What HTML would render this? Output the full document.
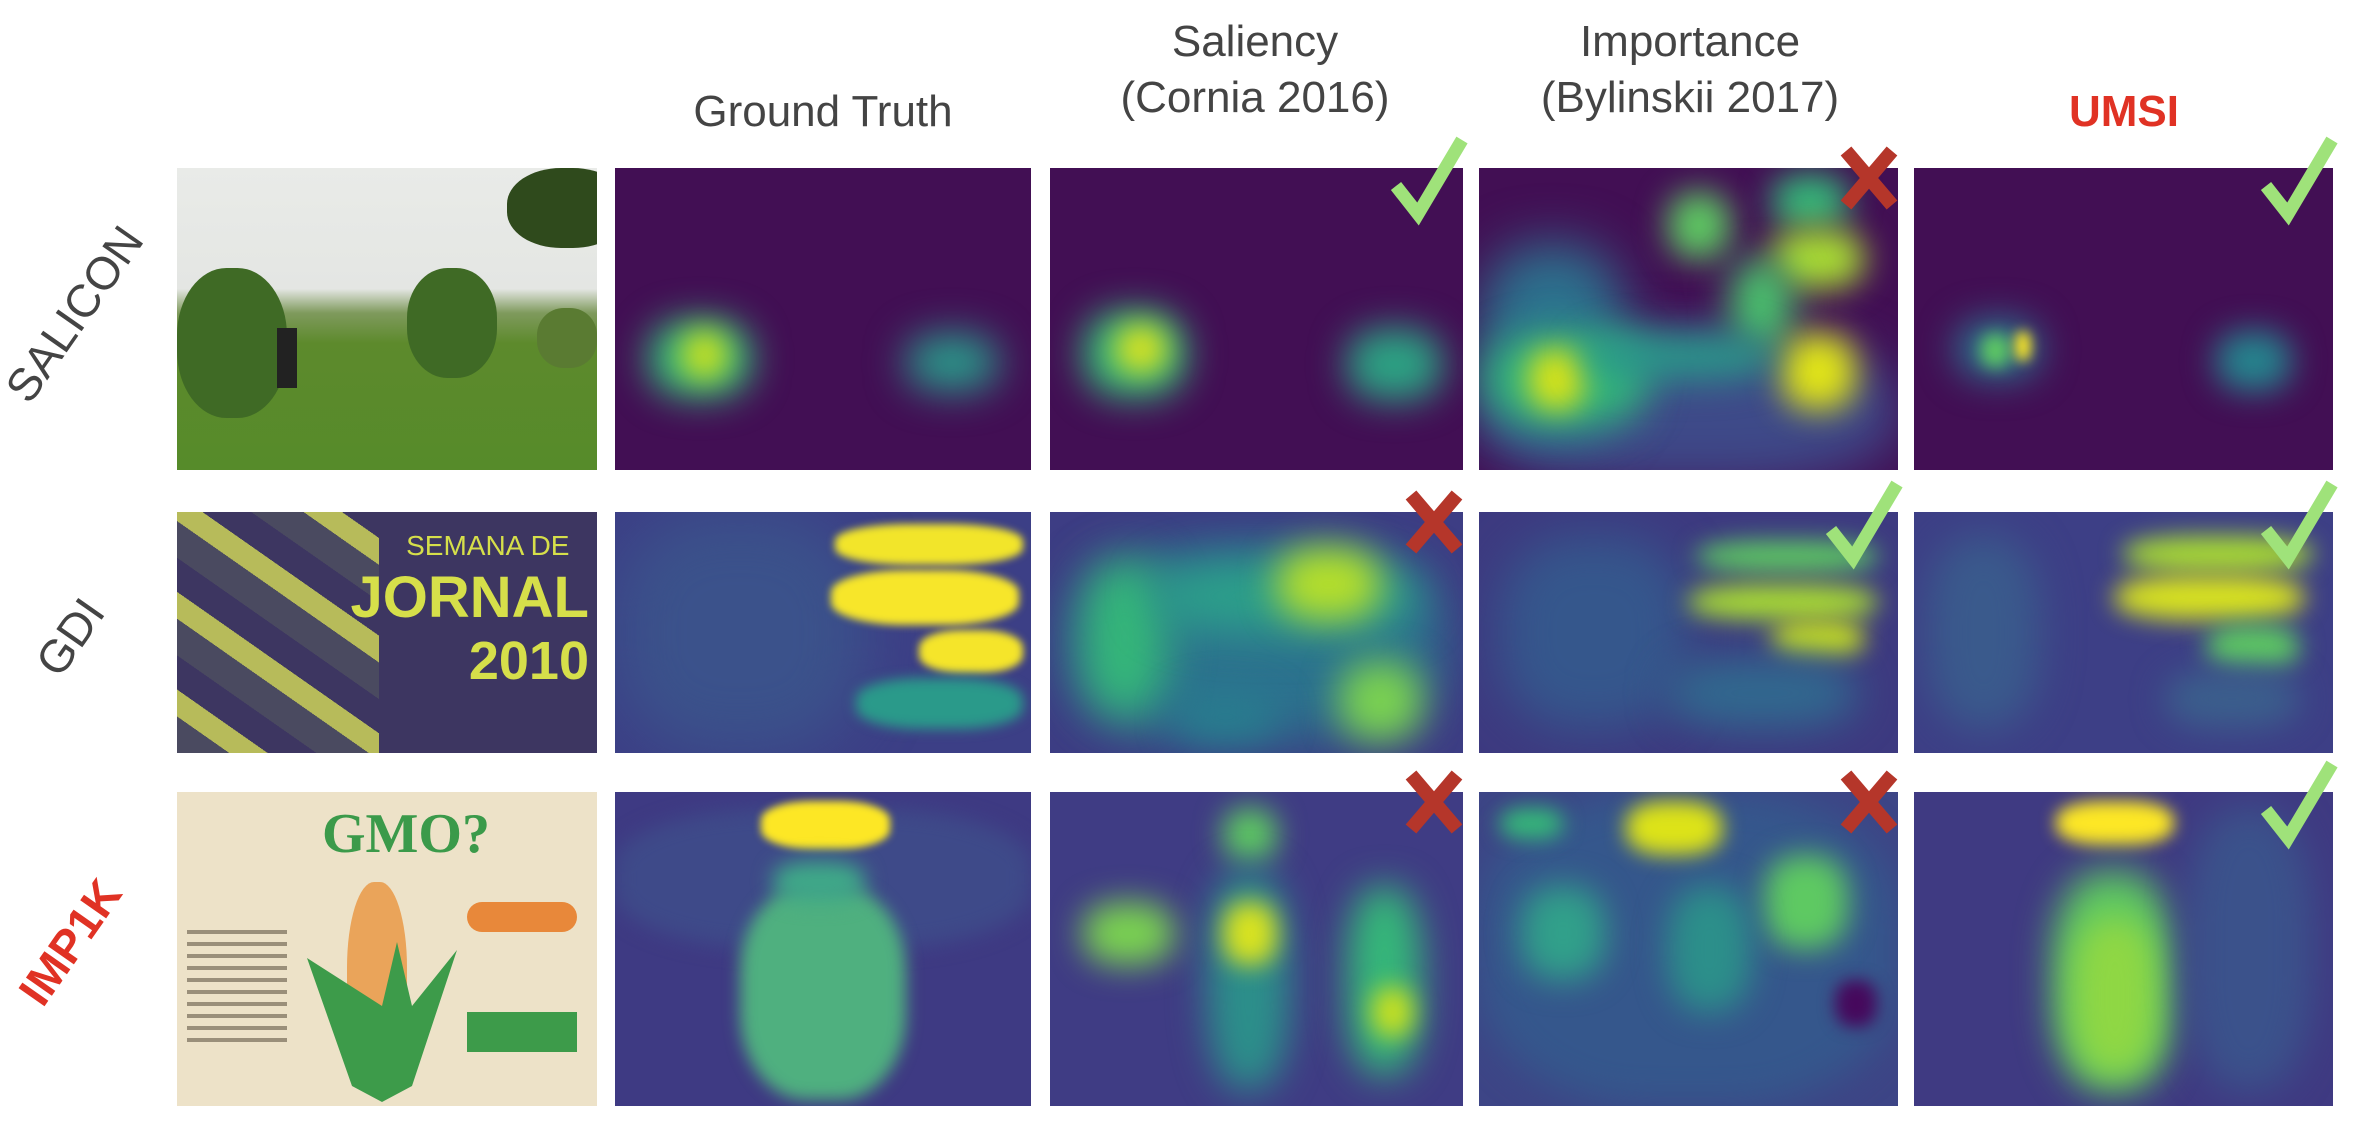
<!DOCTYPE html>
<html><head><meta charset="utf-8">
<style>
html,body{margin:0;padding:0;background:#fff;}
body{width:2354px;height:1134px;position:relative;overflow:hidden;font-family:"Liberation Sans",sans-serif;}
.t{position:absolute;text-align:center;color:#444;font-size:44px;line-height:56px;white-space:nowrap;}
.rl{position:absolute;font-size:46px;color:#444;transform:rotate(-55deg);transform-origin:center;white-space:nowrap;}
.p{position:absolute;overflow:hidden;}
.b{position:absolute;border-radius:40%;}
.mk{position:absolute;}
</style></head><body>
<div class="t" style="left:615px;width:416px;top:84px;">Ground Truth</div>
<div class="t" style="left:1030px;width:450px;top:14px;">Saliency<br>(Cornia 2016)</div>
<div class="t" style="left:1460px;width:460px;top:14px;">Importance<br>(Bylinskii 2017)</div>
<div class="t" style="left:1914px;width:420px;top:84px;color:#e03224;font-weight:bold;">UMSI</div>

<div class="rl" style="left:-20px;top:300px;width:170px;text-align:center;">SALICON</div>
<div class="rl" style="left:20px;top:610px;width:100px;text-align:center;">GDI</div>
<div class="rl" style="left:-5px;top:915px;width:150px;text-align:center;color:#e03224;font-weight:bold;">IMP1K</div>

<div id="root"></div>
<script>
const cols=[[177,597],[615,1031],[1050,1463],[1479,1898],[1914,2333]];
const rows=[[168,470],[512,753],[792,1106]];
const bases=[
 [null,'#420f54','#420f54','#420f54','#420f54'],
 [null,'#3c3f86','#3d3d84','#3d3a80','#3d3f86'],
 [null,'#3e3a83','#3f3c84','#3d4586','#3f3a82']];
// blobs: [x0,y0,x1,y1,color,blur]
const blobs=[
 [null,
  [[0.08,0.5,0.33,0.76,'#35b779',18],[0.16,0.54,0.27,0.7,'#c8e020',14],[0.7,0.55,0.92,0.74,'#2a9a8a',20]],
  [[0.08,0.47,0.33,0.76,'#35b779',18],[0.16,0.52,0.28,0.68,'#d8e220',14],[0.72,0.53,0.95,0.77,'#2ca283',18]],
  [[0,0.55,1,1.05,'#3e4a89',26],[0,0.25,0.35,0.9,'#2c728e',26],[0.02,0.55,0.4,0.85,'#35b779',20],[0.12,0.6,0.25,0.8,'#d5e21a',14],[0.45,0.08,0.6,0.3,'#5ec962',16],[0.7,0.02,0.88,0.2,'#35b779',16],[0.7,0.2,0.92,0.4,'#a8db34',16],[0.6,0.3,0.75,0.6,'#4ac16d',18],[0.72,0.55,0.9,0.8,'#e0e318',16],[0.25,0.55,0.7,0.7,'#2a9a8a',18]],
  [[0.1,0.5,0.3,0.7,'#2c728e',18],[0.16,0.55,0.23,0.66,'#5ec962',8],[0.24,0.54,0.28,0.64,'#fde725',6],[0.72,0.54,0.9,0.74,'#25858e',16]]],
 [null,
  [[0,0,0.6,1,'#3b528b',30],[0.53,0.05,0.98,0.22,'#f2e52a',4],[0.52,0.24,0.97,0.47,'#f7e62a',4],[0.73,0.49,0.98,0.67,'#f5e52a',4],[0.58,0.69,0.98,0.9,'#2a9a8a',6]],
  [[0.05,0.15,0.95,0.95,'#2c728e',26],[0.08,0.2,0.28,0.85,'#35b779',22],[0.25,0.2,0.9,0.5,'#2ca08a',22],[0.55,0.15,0.8,0.45,'#b5de2b',18],[0.3,0.75,0.55,0.95,'#287d8e',18],[0.7,0.62,0.9,0.95,'#7ad151',18]],
  [[0.05,0.1,0.5,0.9,'#35578c',24],[0.52,0.12,0.95,0.25,'#5ec962',12],[0.5,0.3,0.95,0.45,'#a8db34',12],[0.7,0.45,0.92,0.6,'#c8e020',12],[0.45,0.6,0.9,0.9,'#31688e',20]],
  [[0.03,0.1,0.3,0.9,'#3a5a8c',20],[0.5,0.1,0.95,0.25,'#a8db34',12],[0.48,0.26,0.93,0.45,'#d8e220',12],[0.7,0.47,0.92,0.65,'#5ec962',12],[0.6,0.65,0.92,0.9,'#3b5e8c',16]]],
 [null,
  [[0,0.05,1,0.5,'#3e4a89',10],[0.35,0.03,0.66,0.18,'#fde725',4],[0.3,0.3,0.7,0.98,'#4fb07f',8],[0.38,0.22,0.6,0.35,'#3fa888',10]],
  [[0.42,0.05,0.55,0.22,'#5ec962',14],[0.38,0.25,0.58,0.95,'#2c8f8a',18],[0.42,0.35,0.55,0.55,'#d8e220',12],[0.08,0.35,0.3,0.55,'#7ad151',16],[0.72,0.3,0.9,0.9,'#35b779',18],[0.78,0.62,0.88,0.78,'#c8e020',12]],
  [[0,0,1,1,'#35578c',18],[0.35,0.03,0.58,0.2,'#dde318',10],[0.05,0.05,0.2,0.15,'#35b779',10],[0.68,0.2,0.88,0.5,'#5ec962',14],[0.1,0.3,0.3,0.6,'#31a08a',16],[0.45,0.3,0.65,0.7,'#2c8f8a',16],[0.85,0.6,0.95,0.75,'#46085c',8]],
  [[0.34,0.03,0.62,0.17,'#fde725',8],[0.33,0.25,0.62,0.95,'#5ec962',18],[0.38,0.4,0.58,0.9,'#8fd744',16],[0.65,0.05,0.95,0.95,'#3b528b',18]]]];
const marks=[[0,'ok',2],[0,'x',3],[0,'ok',4],[1,'x',2],[1,'ok',3],[1,'ok',4],[2,'x',2],[2,'x',3],[2,'ok',4]];
const root=document.getElementById('root');
function photo(r,el){
  if(r===0){
    el.style.background='linear-gradient(#e9ebe8 0%,#e4e6e3 40%,#7f9a5d 48%,#5d8a2c 58%,#568b2a 100%)';
    el.innerHTML='<div style="position:absolute;left:0;top:100px;width:110px;height:150px;background:#3f6a25;border-radius:45%"></div><div style="position:absolute;left:230px;top:100px;width:90px;height:110px;background:#3f6a25;border-radius:45%"></div><div style="position:absolute;left:330px;top:0;width:120px;height:80px;background:#2f4a1c;border-radius:45%"></div><div style="position:absolute;left:360px;top:140px;width:60px;height:60px;background:#5a7b32;border-radius:45%"></div><div style="position:absolute;left:100px;top:160px;width:20px;height:60px;background:#222"></div>';
  }else if(r===1){
    el.style.background='#3d3661';
    el.innerHTML='<div style="position:absolute;left:0;top:0;width:48%;height:100%;background:repeating-linear-gradient(35deg,#4a4a60 0 30px,#b7bb5a 30px 52px,#3d3661 52px 80px)"></div><div style="position:absolute;left:48%;top:18px;width:52%;text-align:center;color:#d6df4a;font-size:28px">SEMANA DE</div><div style="position:absolute;right:8px;top:52px;color:#d6df4a;font-size:58px;font-weight:bold">JORNAL</div><div style="position:absolute;right:8px;top:118px;color:#d6df4a;font-size:54px;font-weight:bold">2010</div>';
  }else{
    el.style.background='#ede2c8';
    el.innerHTML='<div style="position:absolute;left:145px;top:10px;color:#3b9a4a;font-size:56px;font-weight:bold;font-family:Liberation Serif,serif">GMO?</div><div style="position:absolute;left:170px;top:90px;width:60px;height:190px;background:#eaa45a;border-radius:45%"></div><div style="position:absolute;left:130px;top:150px;width:150px;height:160px;background:#3d9b4a;clip-path:polygon(0 10%,50% 40%,60% 0,70% 40%,100% 5%,70% 90%,50% 100%,30% 90%)"></div><div style="position:absolute;left:290px;top:110px;width:110px;height:30px;background:#e8883a;border-radius:15px"></div><div style="position:absolute;left:290px;top:220px;width:110px;height:40px;background:#3d9b4a"></div><div style="position:absolute;left:10px;top:130px;width:100px;height:120px;background:repeating-linear-gradient(#ede2c8 0 8px,#9a8f7a 8px 12px)"></div>';
  }
}
for(let r=0;r<3;r++){
  for(let c=0;c<5;c++){
    const el=document.createElement('div');
    el.className='p';
    el.style.left=cols[c][0]+'px';el.style.top=rows[r][0]+'px';
    el.style.width=(cols[c][1]-cols[c][0])+'px';el.style.height=(rows[r][1]-rows[r][0])+'px';
    if(c===0){
      
      
      photo(r,el);
    }else{
      
      
      el.style.background=bases[r][c];
      const W=cols[c][1]-cols[c][0],H=rows[r][1]-rows[r][0];
      for(const b of blobs[r][c]){
        const d=document.createElement('div');
        
        
        d.className='b';
        d.style.left=(b[0]*W)+'px';d.style.top=(b[1]*H)+'px';
        d.style.width=((b[2]-b[0])*W)+'px';d.style.height=((b[3]-b[1])*H)+'px';
        d.style.background=b[4];d.style.filter='blur('+b[5]+'px)';
        el.appendChild(d);
      }
    }
    root.appendChild(el);
  }
}
for(const m of marks){
  const [r,k,c]=m;
  const s=document.createElementNS('http://www.w3.org/2000/svg','svg');
  
  
  s.setAttribute('class','mk');
  s.setAttribute('width','80');s.setAttribute('height','90');
  s.style.left=(cols[c][1]-75)+'px';s.style.top=(rows[r][0]-32)+'px';
  if(k==='ok'){
    s.innerHTML='<path d="M8 50 L30 78 L74 4" stroke="#9fe27a" stroke-width="13" fill="none" stroke-linejoin="miter"/>';
  }else{
    s.style.left=(cols[c][1]-62)+'px';s.style.top=(rows[r][0]-25)+'px';
    s.setAttribute('width','66');s.setAttribute('height','70');
    s.innerHTML='<path d="M10 8 L56 62 M56 8 L10 62" stroke="#b5362a" stroke-width="14" fill="none"/>';
  }
  document.body.appendChild(s);
}
</script>
</body></html>
